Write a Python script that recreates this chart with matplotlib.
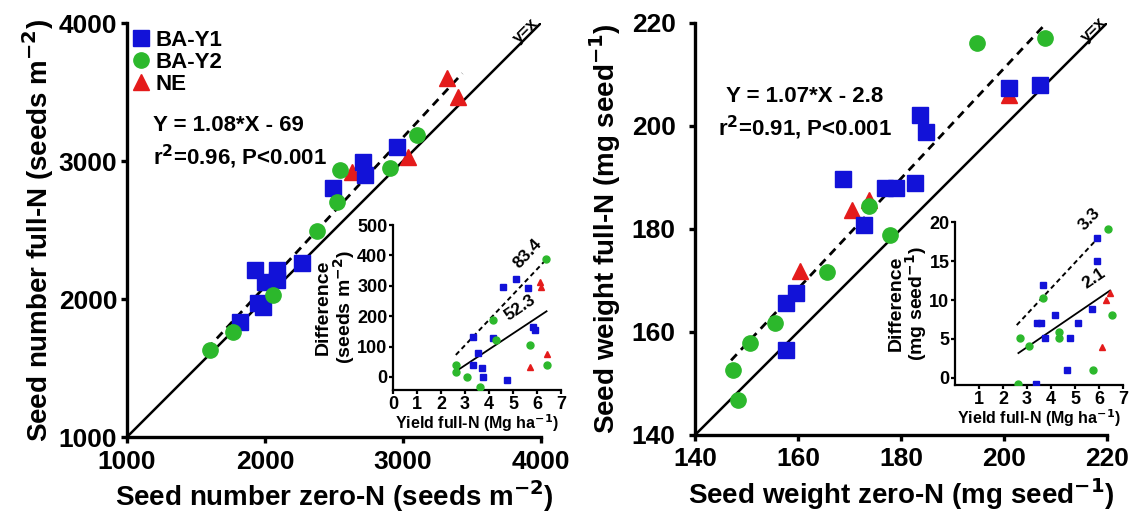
import matplotlib
matplotlib.use("Agg")
import matplotlib.pyplot as plt
import numpy as np

plt.rcParams['font.family'] = ['Liberation Sans', 'DejaVu Sans']
plt.rcParams['font.weight'] = 'bold'
plt.rcParams['axes.labelweight'] = 'bold'
plt.rcParams['mathtext.default'] = 'bf'

BLUE = '#1212d8'
GREEN = '#2cb82c'
RED = '#e41b1b'

# ---------------- Panel A: seed number ----------------
sn_y1_zero = [1819, 1950, 1986, 1928, 2000, 2085, 2085, 2266, 2494, 2712, 2725, 2954]
sn_y1_full = [1836, 1970, 1942, 2210, 2125, 2138, 2210, 2258, 2804, 2995, 2899, 3104]
sn_y2_zero = [1601, 1766, 2060, 2374, 2519, 2543, 2906, 3099]
sn_y2_full = [1630, 1763, 2030, 2495, 2705, 2935, 2949, 3188]
sn_ne_zero = [2628, 3039, 3316, 3400]
sn_ne_full = [2923, 3031, 3599, 3466]
sn_fit = (1.08, -69.0)
sn_fit_range = (1580, 3430)

# inset A: difference vs yield
ia_y1_x = [3.35, 3.35, 3.56, 3.70, 3.74, 4.15, 4.60, 5.12, 4.74, 5.64, 5.85, 5.90]
ia_y1_y = [133, 39, 78, 29, 1, 127, 295, 321, -10, 292, 165, 155]
ia_y2_x = [2.62, 2.62, 3.07, 3.63, 4.18, 4.30, 6.37, 5.70, 6.43]
ia_y2_y = [39, 17, 1, -32, 187, 120, 387, 105, 39]
ia_ne_x = [6.12, 6.15, 5.70, 6.40]
ia_ne_y = [313, 295, 34, 75]
ia_fit_solid = (52.3, -118.6)
ia_fit_dash = (83.4, -146.0)
ia_range_solid = (2.65, 6.4)
ia_range_dash = (2.62, 6.3)

# ---------------- Panel B: seed weight ----------------
sw_y1_zero = [157.6, 157.6, 159.6, 172.9, 168.8, 176.9, 179.0, 182.7, 183.7, 184.9, 201.0, 207.0]
sw_y1_full = [156.5, 165.6, 167.6, 180.8, 189.8, 187.9, 187.9, 188.9, 202.1, 198.9, 207.3, 208.0]
sw_y2_zero = [148.4, 147.4, 150.7, 155.5, 165.7, 177.9, 173.8, 194.8, 208.0]
sw_y2_full = [146.8, 152.6, 157.8, 161.7, 171.7, 178.8, 184.5, 216.1, 217.0]
sw_ne_zero = [160.4, 170.5, 173.8, 200.9]
sw_ne_full = [171.8, 183.7, 185.6, 206.0]
sw_fit = (1.07, -2.8)
sw_fit_range = (147.0, 208.0)

ib_y1_x = [3.38, 3.65, 3.40, 3.60, 3.75, 4.17, 4.80, 5.14, 4.65, 5.70, 5.93, 5.90]
ib_y1_y = [-0.8, 11.9, 7.1, 7.1, 5.1, 8.1, 5.1, 7.1, 1.0, 8.9, 17.9, 15.0]
ib_y2_x = [2.71, 2.64, 3.10, 3.65, 4.35, 4.35, 5.76, 6.39, 6.53]
ib_y2_y = [5.1, -0.8, 4.1, 10.2, 5.9, 5.1, 1.0, 19.1, 8.1]
ib_ne_x = [6.30, 6.46, 6.11]
ib_ne_y = [10.0, 10.9, 4.0]
ib_fit_solid = (2.1, -2.35)
ib_fit_dash = (3.3, -1.7)
ib_range_solid = (2.64, 6.46)
ib_range_dash = (2.57, 5.9)

fig = plt.figure(figsize=(11.42, 5.14), dpi=100)

def style_axes(ax, lw, ticklen, tickfs, ypad=1, xpad=1):
    for s in ['top', 'right']:
        ax.spines[s].set_visible(False)
    for s in ['left', 'bottom']:
        ax.spines[s].set_linewidth(lw)
    ax.tick_params(direction='out', width=lw, length=ticklen, labelsize=tickfs)
    ax.tick_params(axis='y', pad=ypad)
    ax.tick_params(axis='x', pad=xpad)
    for lab in ax.get_xticklabels() + ax.get_yticklabels():
        lab.set_fontweight('bold')

def main_panel(rect, lims, ticks, series, fit, frange, xlabel, ylabel, ypad, ylabelpad):
    ax = fig.add_axes(rect)
    ax.set_xlim(*lims); ax.set_ylim(*lims)
    ax.set_xticks(ticks); ax.set_yticks(ticks)
    ax.plot(lims, lims, color='black', lw=1.8, zorder=1)
    fx = np.array(frange)
    ax.plot(fx, fit[0] * fx + fit[1], color='black', lw=2.0, ls=(0, (3, 2.2)), zorder=1)
    (x1, y1), (x2, y2), (x3, y3) = series
    ax.plot(x1, y1, 's', color=BLUE, ms=11, ls='none', label='BA-Y1', zorder=3, clip_on=False)
    ax.plot(x2, y2, 'o', color=GREEN, ms=11, ls='none', label='BA-Y2', zorder=3, clip_on=False)
    ax.plot(x3, y3, '^', color=RED, ms=11, ls='none', label='NE', zorder=2, clip_on=False)
    ax.set_xlabel(xlabel, fontsize=20, labelpad=3)
    ax.set_ylabel(ylabel, fontsize=20, labelpad=ylabelpad)
    style_axes(ax, 2.4, 4, 19, ypad=ypad, xpad=5)
    return ax

axA = main_panel([0.1112, 0.1498, 0.3625, 0.8054], (1000, 4000), [1000, 2000, 3000, 4000],
                 [(sn_y1_zero, sn_y1_full), (sn_y2_zero, sn_y2_full), (sn_ne_zero, sn_ne_full)],
                 sn_fit, sn_fit_range,
                 'Seed number zero-N (seeds m$^{-2}$)', 'Seed number full-N (seeds m$^{-2}$)',
                 3, 2)
axA.legend(loc='upper left', bbox_to_anchor=(0.0, 1.0), frameon=False,
           handlelength=0.7, handletextpad=0.3, labelspacing=0.05, borderaxespad=0.2,
           borderpad=0.1, prop={'weight': 'bold', 'size': 16})
axA.text(0.062, 0.71, 'Y = 1.08*X - 69\nr$^2$=0.96, P<0.001', transform=axA.transAxes,
         fontsize=16, fontweight='bold', va='center', ha='left', linespacing=1.3)
axA.text(3890, 3945, 'y=x', rotation=45, fontsize=12, fontweight='bold', ha='center', va='center')

axB = main_panel([0.6086, 0.1537, 0.3608, 0.8016], (140, 220), [140, 160, 180, 200, 220],
                 [(sw_y1_zero, sw_y1_full), (sw_y2_zero, sw_y2_full), (sw_ne_zero, sw_ne_full)],
                 sw_fit, sw_fit_range,
                 'Seed weight zero-N (mg seed$^{-1}$)', 'Seed weight full-N (mg seed$^{-1}$)',
                 10, 6)
axB.text(0.267, 0.78, 'Y = 1.07*X - 2.8\nr$^2$=0.91, P<0.001', transform=axB.transAxes,
         fontsize=16, fontweight='bold', va='center', ha='center', linespacing=1.3)
axB.text(217.3, 218.6, 'y=x', rotation=45, fontsize=12, fontweight='bold', ha='center', va='center')

def inset(rect, ylim, yticks, xticks, series, fs, fd, rs, rd, ylabel, labs):
    ax = fig.add_axes(rect)
    ax.patch.set_alpha(0)
    ax.set_xlim(0, 7); ax.set_ylim(*ylim)
    ax.set_xticks(xticks); ax.set_yticks(yticks)
    (x1, y1), (x2, y2), (x3, y3) = series
    ax.plot(x1, y1, 's', color=BLUE, ms=5, ls='none', zorder=3)
    ax.plot(x2, y2, 'o', color=GREEN, ms=5, ls='none', zorder=3)
    ax.plot(x3, y3, '^', color=RED, ms=5, ls='none', zorder=3)
    sx = np.array(rs)
    ax.plot(sx, fs[0] * sx + fs[1], color='black', lw=1.3, zorder=2)
    dx = np.array(rd)
    ax.plot(dx, fd[0] * dx + fd[1], color='black', lw=1.4, ls=(0, (2.5, 1.8)), zorder=2)
    ax.set_xlabel('Yield full-N (Mg ha$^{-1}$)', fontsize=11.5, labelpad=0)
    ax.set_ylabel(ylabel, fontsize=14, labelpad=0, linespacing=0.95)
    style_axes(ax, 1.6, 3, 13)
    for (tx, ty, t, rot) in labs:
        ax.text(tx, ty, t, rotation=rot, fontsize=12.5, fontweight='bold', ha='center', va='center')
    return ax

inset([0.3441, 0.2412, 0.1471, 0.321], (-43, 500), [0, 100, 200, 300, 400, 500],
      [0, 1, 2, 3, 4, 5, 6, 7],
      [(ia_y1_x, ia_y1_y), (ia_y2_x, ia_y2_y), (ia_ne_x, ia_ne_y)],
      ia_fit_solid, ia_fit_dash, ia_range_solid, ia_range_dash,
      'Difference\n(seeds m$^{-2}$)',
      [(5.6, 405, '83.4', 47), (5.3, 228, '52.3', 34)])

inset([0.8363, 0.251, 0.1471, 0.317], (-0.9, 20), [0, 5, 10, 15, 20],
      [1, 2, 3, 4, 5, 6, 7],
      [(ib_y1_x, ib_y1_y), (ib_y2_x, ib_y2_y), (ib_ne_x, ib_ne_y)],
      ib_fit_solid, ib_fit_dash, ib_range_solid, ib_range_dash,
      'Difference\n(mg seed$^{-1}$)',
      [(5.6, 20.4, '3.3', 47), (5.8, 12.8, '2.1', 34)])

fig.savefig('out.png', dpi=100)
